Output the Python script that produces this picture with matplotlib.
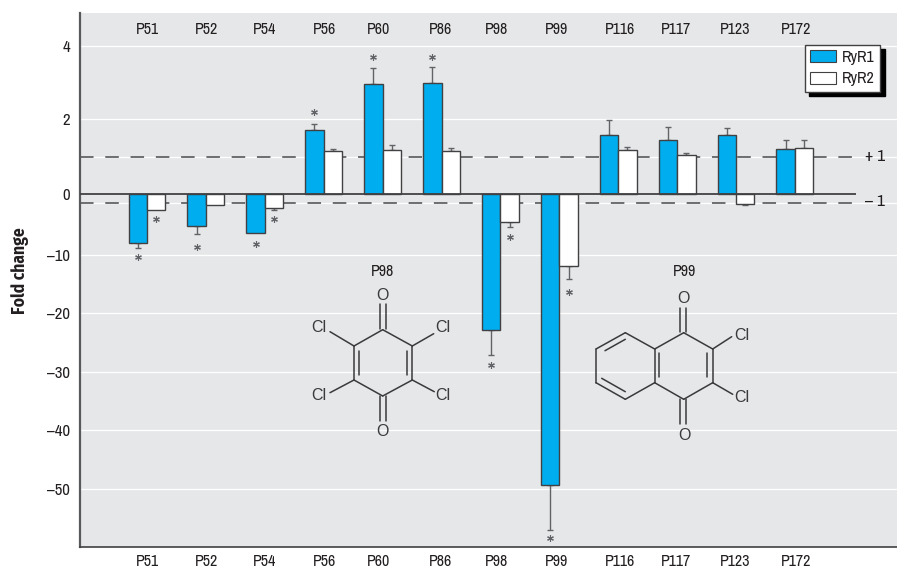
import numpy as np
import matplotlib
matplotlib.use('Agg')
import matplotlib.pyplot as plt
from matplotlib.patches import Patch
from matplotlib.scale import FuncScale

plt.rcParams['font.family'] = ['Archivo Narrow', 'Liberation Sans', 'DejaVu Sans']

compounds = ['P51', 'P52', 'P54', 'P56', 'P60', 'P86', 'P98', 'P99', 'P116', 'P117', 'P123', 'P172']
ryr1 = [-8.0, -5.0, -6.2, 1.70, 2.97, 3.00, -22.9, -49.3, 1.58, 1.46, 1.58, 1.20]
ryr2 = [-2.2, -1.5, -2.0, 1.15, 1.19, 1.17, -4.3, -12.0, 1.19, 1.06, -1.2, 1.24]
# where the error bar ends, nan = none visible
ryr1_err_end = [-8.9, -6.5, np.nan, 1.87, 3.39, 3.42, -27.2, -57.0, 1.98, 1.79, 1.77, 1.46]
ryr2_err_end = [np.nan, np.nan, -2.2, 1.20, 1.32, 1.24, -5.2, -14.1, 1.26, 1.12, -1.5, 1.46]
# asterisks
ryr1_star_idx = [0, 1, 2, 3, 4, 5, 6, 7]
ryr1_star_y = [-10.4, -8.7, -8.2, 2.19, 3.70, 3.70, -28.9, -58.4]
ryr2_star_idx = [0, 2, 6, 7]
ryr2_star_y = [-3.85, -3.85, -6.9, -16.4]

y_ticks = [4, 2, 0, -10, -20, -30, -40, -50]
y_tick_labels = ['4', '2', '0', '\u201310', '\u201320', '\u201330', '\u201340', '\u201350']
grid_levels = [4, 2, 1, -1, -10, -20, -30, -40, -50]
thresholds = [1, -1]

# the y axis is stretched above -1, so use a piecewise scale
scale_vals = [-59.9, -50, -10, -1, 0, 1, 2, 4, 4.9]
scale_pix = [-546.7, -488.7, -254.5, -202.5, -193.5, -157, -119, -46, -13]


def to_pix(v):
    return np.interp(v, scale_vals, scale_pix)


def from_pix(p):
    return np.interp(p, scale_pix, scale_vals)


BLUE = '#00aeef'
PANEL = '#e6e7e9'
DARK = '#414042'
GREY = '#626366'

fig = plt.figure(figsize=(8.97, 5.68), dpi=100)
ax = fig.add_axes([80 / 897, 21 / 568, 817 / 897, 534 / 568], facecolor=PANEL)
ax.set_yscale(FuncScale(ax.yaxis, (to_pix, from_pix)))
ax.set_ylim(-59.9, 4.9)
ax.set_xlim((80 - 147) / 58.9, (897 - 147) / 58.9)
line_end = (855.5 - 147) / 58.9

x = np.arange(len(compounds))
w = 0.314

for lev in grid_levels:
    ax.axhline(lev, color='white', lw=0.9, zorder=1)
ax.hlines(thresholds, ax.get_xlim()[0], line_end, color=GREY, lw=1.3,
          linestyles=(0, (7.5, 6.5)), zorder=2)
ax.bar(x - w / 2, ryr1, w, color=BLUE, edgecolor=DARK, lw=1.0, zorder=3)
ax.bar(x + w / 2, ryr2, w, color='white', edgecolor=DARK, lw=1.0, zorder=3)
ax.hlines(0, ax.get_xlim()[0], line_end, color=DARK, lw=1.3, zorder=4)

for xs, vals, ends in [(x - w / 2, ryr1, ryr1_err_end), (x + w / 2, ryr2, ryr2_err_end)]:
    vals = np.array(vals)
    ends = np.array(ends)
    lo = np.where(vals < 0, vals - ends, 0)
    hi = np.where(vals > 0, ends - vals, 0)
    keep = ~np.isnan(ends)
    ax.errorbar(xs[keep], vals[keep], yerr=[lo[keep], hi[keep]], fmt='none', ecolor=GREY,
                elinewidth=1.0, capsize=2.4, capthick=1.0, zorder=2.5)

star_x = np.concatenate([x[ryr1_star_idx] - w / 2, x[ryr2_star_idx] + w / 2])
star_y = ryr1_star_y + ryr2_star_y
ax.plot(star_x, star_y, ls='none', marker=(6, 2, 0), ms=4.8, mew=0.8, color=GREY, zorder=5)

ax.set_xticks([])
ax.set_yticks(y_ticks)
ax.set_yticklabels(y_tick_labels, fontsize=12, color='#231f20')
ax.tick_params(axis='y', length=0, pad=7)
for side in ['top', 'right']:
    ax.spines[side].set_visible(False)
ax.spines['left'].set_color('#58595b')
ax.spines['left'].set_linewidth(1.6)
ax.spines['bottom'].set_color(DARK)
ax.spines['bottom'].set_linewidth(1.2)

handles = [Patch(facecolor=BLUE, edgecolor=DARK, lw=0.8, label='RyR1'),
           Patch(facecolor='white', edgecolor=DARK, lw=0.8, label='RyR2')]
leg = ax.legend(handles=handles, loc='upper left', bbox_to_anchor=(724.5 / 817, (547 - 44.5) / 534),
                fontsize=11.5, fancybox=False, framealpha=1, edgecolor=DARK, borderaxespad=0,
                handlelength=1.65, handleheight=0.75, handletextpad=0.38, labelspacing=0.42,
                borderpad=0.33, shadow={'color': 'black', 'alpha': 1, 'ox': 3, 'oy': -3})
leg.get_frame().set_linewidth(1.0)
leg.set_zorder(6)
for t in leg.get_texts():
    t.set_color('#231f20')

# overlay in picture pixels for the labels and the two structures
ov = fig.add_axes([0, 0, 1, 1], facecolor='none')
ov.set_xlim(0, 897)
ov.set_ylim(568, 0)
ov.axis('off')

label_x = [147, 207, 264, 324, 379, 440, 497, 556, 620, 676, 735, 796]
for name, lx in zip(compounds, label_x):
    ov.text(lx, 29.5, name, ha='center', va='center', fontsize=11.5, color='#231f20')
    ov.text(lx, 561.5, name, ha='center', va='center', fontsize=11.5, color='#231f20')

ov.text(885, 156.5, '+ 1', ha='right', va='center', fontsize=12.5, color='#231f20')
ov.text(885, 202, '\u2013 1', ha='right', va='center', fontsize=12.5, color='#231f20')
ov.text(20, 271, 'Fold change', rotation=90, ha='center', va='center', fontsize=12.5,
        fontweight='bold', family=['Fira Sans Condensed', 'Liberation Sans', 'DejaVu Sans'],
        color='#231f20')


def bonds(segs):
    for (x0, y0), (x1, y1) in segs:
        ov.plot([x0, x1], [y0, y1], color='#3a3a3c', lw=1.1, solid_capstyle='round', zorder=7)


def atoms(items):
    for s, ax_x, ax_y in items:
        ov.text(ax_x, ax_y, s, ha='center', va='center', fontsize=11.5, color='#3a3a3c',
                family='Liberation Sans', zorder=7)


ring = [(382.7, 329.7), (412.3, 346), (412.3, 380), (382.7, 396), (354, 380), (354, 346), (382.7, 329.7)]
bonds(zip(ring[:-1], ring[1:]))
bonds([((359.3, 351), (359.3, 375)), ((406.7, 351), (406.7, 375)),
       ((380, 304), (380, 329)), ((386, 304), (386, 329)),
       ((380, 396), (380, 421)), ((386, 396), (386, 421)),
       ((330, 331.7), (354, 346)), ((433.7, 333.7), (412.3, 346)),
       ((330, 392.7), (354, 380)), ((434.3, 391.7), (412.3, 380))])
atoms([('O', 382, 295), ('O', 382, 431), ('Cl', 319, 327), ('Cl', 442.5, 327),
       ('Cl', 319, 396), ('Cl', 443, 396)])
ov.text(382, 271, 'P98', ha='center', va='center', fontsize=11.5, color='#231f20')

ring = [(683.7, 332.7), (712.7, 349), (712.7, 382.7), (683.7, 399.3), (654.7, 382.7), (654.7, 349), (683.7, 332.7)]
bonds(zip(ring[:-1], ring[1:]))
ring = [(654.7, 349), (625.3, 332.7), (596, 349), (596, 382.7), (625.3, 399.3), (654.7, 382.7)]
bonds(zip(ring[:-1], ring[1:]))
bonds([((707.3, 353.3), (707.3, 377.3)), ((659.3, 353.3), (659.3, 377.3)),
       ((605, 350.7), (625.3, 339.3)), ((601.7, 378.3), (625.3, 391.7)),
       ((680.3, 308), (680.3, 332)), ((686.3, 308), (686.3, 332)),
       ((680.3, 399), (680.3, 424)), ((686.3, 399), (686.3, 424)),
       ((712.7, 349), (731.7, 336.7)), ((712.7, 382.7), (732.7, 394.3))])
atoms([('O', 683.5, 298.5), ('O', 684, 435), ('Cl', 742, 336), ('Cl', 742, 398)])
ov.text(684, 271, 'P99', ha='center', va='center', fontsize=11.5, color='#231f20')

fig.savefig('out.png', dpi=100)
